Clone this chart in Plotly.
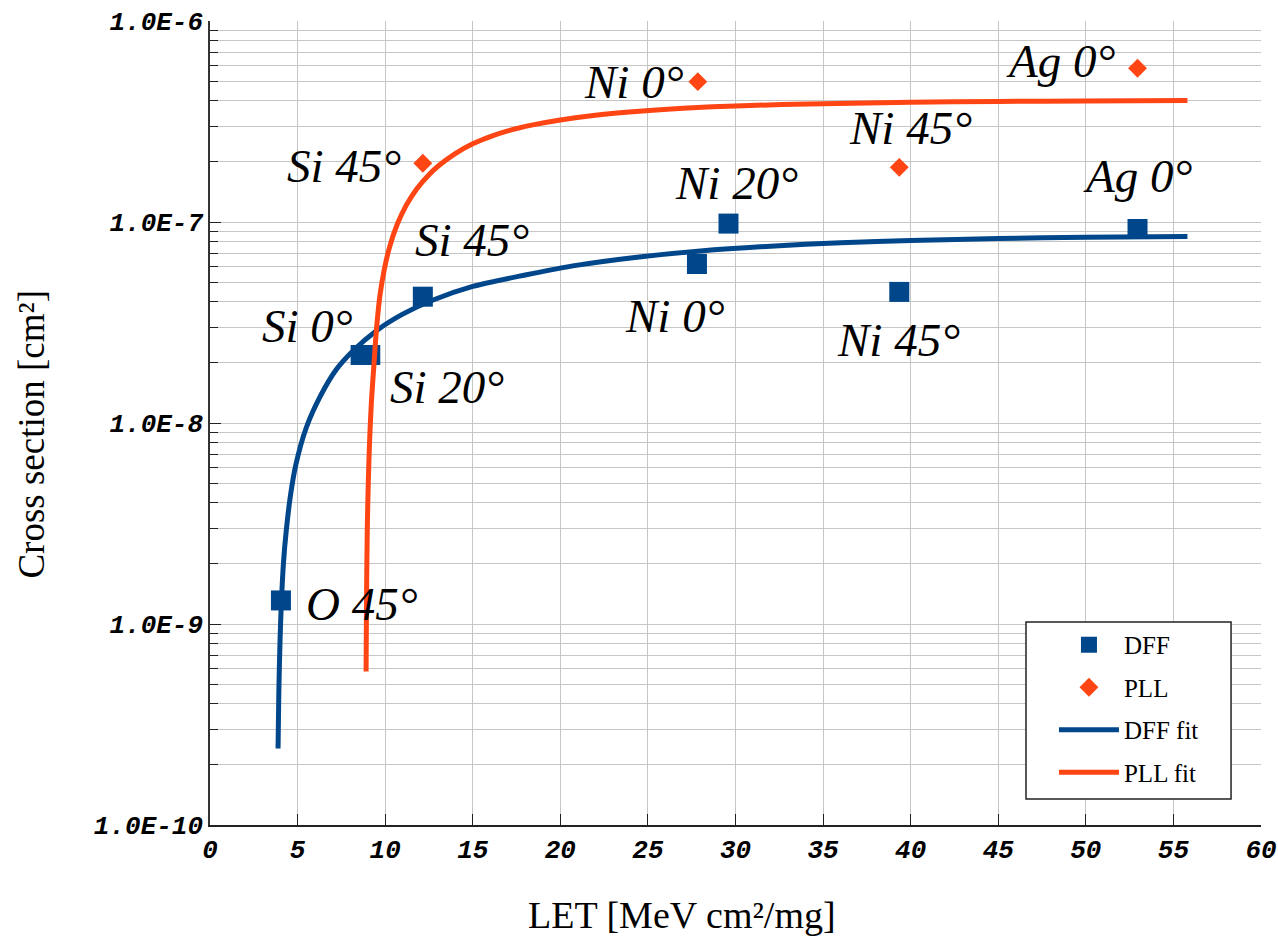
import math
import plotly.graph_objects as go

# ---- measured cross sections ----
dff_ions = ["O 45°", "Si 0°", "Si 20°", "Si 45°", "Ni 0°", "Ni 20°", "Ni 45°", "Ag 0°"]
dff_let = [4.05, 8.6, 9.15, 12.15, 27.8, 29.6, 39.35, 52.95]
dff_xs = [1.31e-9, 2.18e-8, 2.18e-8, 4.25e-8, 6.18e-8, 9.82e-8, 4.49e-8, 9.23e-8]

pll_ions = ["Si 45°", "Ni 0°", "Ni 45°", "Ag 0°"]
pll_let = [12.15, 27.85, 39.35, 52.95]
pll_xs = [1.96e-7, 4.99e-7, 1.87e-7, 5.82e-7]

# ---- fitted response curves ----
dff_fit_let = [3.885, 3.93, 4.0, 4.08, 4.2, 4.36, 4.6, 4.9, 5.5, 6.3, 7.2, 8.2,
               9.5, 11.0, 12.7, 15.0, 18.0, 21.0, 24.5, 28.0, 32.0, 36.0, 40.0,
               45.0, 50.0, 55.8]
dff_fit_xs = [2.4e-10, 4.6e-10, 8.4e-10, 1.31e-9, 2.05e-9, 2.95e-9, 4.4e-9, 6.2e-9,
              9.5e-9, 1.36e-8, 1.84e-8, 2.3e-8, 2.88e-8, 3.48e-8, 4.08e-8, 4.78e-8,
              5.45e-8, 6.1e-8, 6.7e-8, 7.18e-8, 7.58e-8, 7.88e-8, 8.08e-8, 8.27e-8,
              8.39e-8, 8.47e-8]

pll_fit_let = [8.91, 8.94, 8.98, 9.04, 9.12, 9.22, 9.35, 9.5, 9.7, 9.95, 10.25, 10.7,
               11.2, 11.8, 12.5, 13.1, 14.0, 15.0, 16.0, 17.0, 18.5, 20.0, 22.0,
               24.5, 27.0, 30.0, 35.0, 40.0, 45.0, 50.0, 55.8]
pll_fit_xs = [5.8e-10, 1.5e-9, 3.0e-9, 5.2e-9, 8.5e-9, 1.3e-8, 1.9e-8, 2.9e-8, 4.3e-8,
              5.8e-8, 7.5e-8, 9.8e-8, 1.21e-7, 1.46e-7, 1.72e-7, 1.92e-7, 2.19e-7,
              2.45e-7, 2.66e-7, 2.84e-7, 3.05e-7, 3.22e-7, 3.4e-7, 3.56e-7, 3.68e-7,
              3.78e-7, 3.88e-7, 3.94e-7, 3.98e-7, 4.0e-7, 4.02e-7]

# ---- axis ticks ----
x_ticks = [0, 5, 10, 15, 20, 25, 30, 35, 40, 45, 50, 55, 60]
y_ticks = [1e-10, 1e-9, 1e-8, 1e-7, 1e-6]
y_tick_text = ["1.0E-10", "1.0E-9", "1.0E-8", "1.0E-7", "1.0E-6"]

# label placement relative to each point (pixels: right, up)
dff_label_shift = [(81, -4), (-53, 29), (77, -32), (49, 57), (-22, -52), (8, 41), (-1, -48), (0, 53)]
pll_label_shift = [(-79, -3), (-64, 0), (11, 39), (-77, 7)]

BLUE = "#00468A"
ORANGE = "#FF4513"
SERIF = "Liberation Serif"
MONO = "Liberation Mono"

fig = go.Figure()
fig.add_trace(go.Scatter(
    x=dff_let, y=dff_xs, mode="markers", name="DFF", legendgroup="a",
    marker=dict(symbol="square", size=20, color=BLUE),
))
fig.add_trace(go.Scatter(
    x=pll_let, y=pll_xs, mode="markers", name="PLL", legendgroup="b",
    marker=dict(symbol="diamond", size=14.5, color=ORANGE),
))
fig.add_trace(go.Scatter(
    x=dff_fit_let, y=dff_fit_xs, mode="lines", name="DFF fit", legendgroup="c",
    line=dict(color=BLUE, width=5, shape="spline", smoothing=0.8),
))
fig.add_trace(go.Scatter(
    x=pll_fit_let, y=pll_fit_xs, mode="lines", name="PLL fit", legendgroup="d",
    line=dict(color=ORANGE, width=5, shape="spline", smoothing=0.8),
))

annotations = []
for lets, vals, names, shifts in ((dff_let, dff_xs, dff_ions, dff_label_shift),
                                  (pll_let, pll_xs, pll_ions, pll_label_shift)):
    for lx, ly, txt, (sx, sy) in zip(lets, vals, names, shifts):
        annotations.append(dict(
            x=lx, y=math.log10(ly), xref="x", yref="y", text=txt, showarrow=False,
            xshift=sx, yshift=sy, xanchor="center", yanchor="middle",
            font=dict(family=SERIF, size=47, color="black", style="italic"),
        ))

annotations.append(dict(
    x=0.449, y=-0.112, xref="paper", yref="paper", text="LET [MeV cm²/mg]",
    showarrow=False, xanchor="center", yanchor="middle",
    font=dict(family=SERIF, size=38, color="black"),
))
annotations.append(dict(
    x=-0.170, y=0.486, xref="paper", yref="paper", text="Cross section [cm²]",
    showarrow=False, xanchor="center", yanchor="middle", textangle=-90,
    font=dict(family=SERIF, size=37, color="black"),
))

minor_y = [m * 10.0 ** e for e in range(-10, -6) for m in range(2, 10)]
tick_font = dict(family=MONO, size=26, color="black", weight="bold", style="italic")
GRID = "#c6c6c6"

# framed box behind the legend entries
legend_frame = dict(
    type="rect", xref="paper", yref="paper", layer="above",
    x0=0.7764, x1=0.9715, y0=0.0323, y1=0.2525,
    line=dict(color="#222222", width=1.5), fillcolor="white",
)

fig.update_layout(
    width=1278, height=938,
    margin=dict(l=210, r=17, t=21, b=113),
    paper_bgcolor="white", plot_bgcolor="white",
    showlegend=True,
    shapes=[legend_frame],
    legend=dict(
        x=0.803, y=0.2525, xanchor="left", yanchor="top",
        bgcolor="rgba(0,0,0,0)", borderwidth=0,
        font=dict(family=SERIF, size=25, color="black"),
        itemwidth=60, tracegroupgap=7, traceorder="grouped",
    ),
    annotations=annotations,
    xaxis=dict(
        range=[0, 60], tickmode="array", tickvals=x_ticks, automargin=False,
        ticks="inside", ticklen=11, tickwidth=1, tickcolor="#222222",
        showline=True, linecolor="#222222", linewidth=1.5,
        showgrid=True, gridcolor=GRID, gridwidth=1, zeroline=False,
        tickfont=tick_font,
    ),
    yaxis=dict(
        type="log", range=[-10, -6], tickmode="array", automargin=False,
        tickvals=y_ticks, ticktext=y_tick_text,
        ticks="inside", ticklen=11, tickwidth=1, tickcolor="#222222",
        showline=True, linecolor="#333333", linewidth=1.5,
        showgrid=True, gridcolor=GRID, gridwidth=1, zeroline=False,
        tickfont=tick_font,
        minor=dict(tickmode="array", tickvals=minor_y, ticks="inside", ticklen=8,
                   tickcolor="#222222", showgrid=True, gridcolor=GRID, gridwidth=1),
    ),
)

fig.write_html("out.html")
